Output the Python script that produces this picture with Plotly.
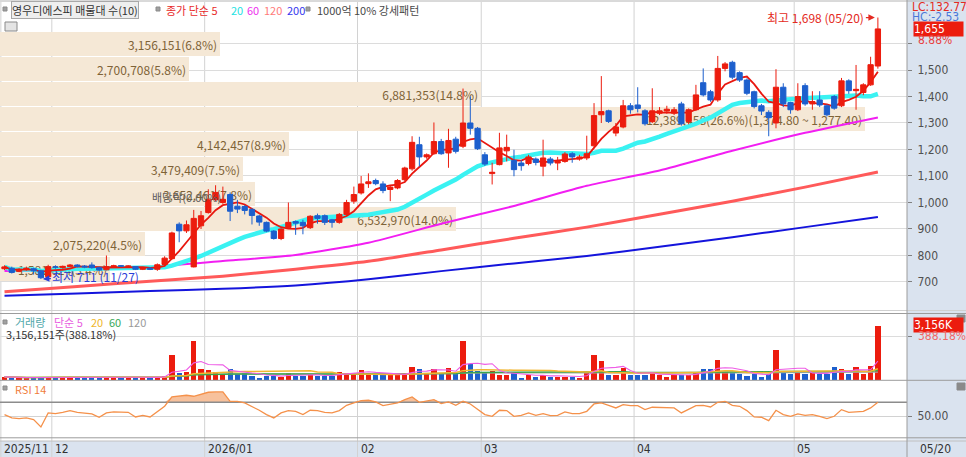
import numpy as np
import pandas as pd
import plotly.graph_objects as go

W, H = 966, 457
FONT = "Noto Sans CJK KR, sans-serif"
NUM = "Liberation Sans Narrow, DejaVu Sans Condensed, Noto Sans CJK KR, sans-serif"
RED = "#ec1c0e"
BLUE = "#1d5fcd"
STRIP = "#dae3ef"

# KRX sessions, 2025-11-20 .. 2026-05-20
holidays = ["2025-12-25", "2025-12-31", "2026-01-01", "2026-02-16", "2026-02-17",
            "2026-02-18", "2026-03-02", "2026-05-01", "2026-05-05"]
dates = pd.bdate_range("2025-11-20", "2026-05-20", freq="C", holidays=holidays)

opens = [750, 752, 740, 747, 750, 742, 720, 757, 754, 758,
         764, 760, 764, 754, 746, 757, 761, 759, 758, 748,
         752, 748, 766, 788, 918, 893, 757, 912, 962, 1011,
         1000, 1030, 986, 985, 974, 949, 925, 892, 864, 905,
         928, 925, 905, 950, 950, 935, 925, 955, 1005, 1036,
         1071, 1083, 1070, 1049, 1055, 1086, 1127, 1218, 1172, 1184,
         1230, 1187, 1239, 1212, 1300, 1280, 1180, 1109, 1143, 1195,
         1158, 1149, 1147, 1164, 1137, 1164, 1149, 1155, 1184, 1164,
         1168, 1214, 1331, 1346, 1262, 1285, 1365, 1368, 1346, 1305,
         1337, 1345, 1337, 1372, 1306, 1350, 1452, 1418, 1387, 1506,
         1529, 1490, 1462, 1418, 1365, 1340, 1300, 1435, 1377, 1350,
         1441, 1372, 1387, 1365, 1400, 1365, 1459, 1422, 1415, 1444,
         1515]
highs = [763, 758, 752, 758, 754, 746, 765, 763, 762, 768,
         767, 764, 774, 757, 800, 765, 764, 763, 760, 755,
         756, 770, 797, 890, 925, 932, 972, 968, 1050, 1065,
         1060, 1038, 1010, 990, 978, 953, 928, 896, 903, 1000,
         932, 935, 952, 958, 955, 938, 960, 1010, 1060, 1100,
         1110, 1090, 1080, 1062, 1088, 1135, 1250, 1248, 1185, 1302,
         1240, 1278, 1248, 1430, 1400, 1285, 1190, 1150, 1263, 1256,
         1199, 1160, 1180, 1170, 1237, 1172, 1172, 1190, 1190, 1180,
         1252, 1375, 1477, 1350, 1300, 1387, 1375, 1435, 1352, 1431,
         1360, 1365, 1360, 1380, 1355, 1444, 1506, 1425, 1553, 1530,
         1535, 1495, 1468, 1422, 1372, 1348, 1503, 1450, 1380, 1450,
         1450, 1420, 1420, 1370, 1405, 1470, 1465, 1519, 1450, 1550,
         1698]
lows = [745, 732, 737, 742, 728, 711, 718, 750, 750, 755,
        755, 752, 750, 742, 744, 754, 756, 755, 745, 745,
        745, 742, 764, 785, 850, 885, 755, 900, 958, 1005,
        995, 930, 960, 955, 917, 912, 888, 860, 858, 900,
        878, 880, 900, 920, 915, 905, 920, 950, 995, 1030,
        1055, 1065, 1035, 1005, 1050, 1080, 1120, 1136, 1165, 1180,
        1180, 1131, 1185, 1205, 1256, 1198, 1138, 1068, 1140, 1155,
        1099, 1120, 1140, 1140, 1099, 1140, 1122, 1150, 1150, 1158,
        1160, 1210, 1300, 1300, 1250, 1280, 1335, 1340, 1290, 1300,
        1330, 1335, 1330, 1290, 1295, 1345, 1400, 1380, 1380, 1495,
        1465, 1455, 1405, 1355, 1330, 1250, 1280, 1360, 1335, 1345,
        1365, 1350, 1360, 1325, 1350, 1360, 1410, 1350, 1405, 1440,
        1505]
closes = [757, 736, 748, 752, 742, 716, 758, 756, 759, 764,
          759, 757, 754, 745, 758, 761, 760, 760, 748, 752,
          748, 765, 790, 885, 893, 916, 940, 950, 1010, 1038,
          1012, 967, 975, 970, 951, 926, 892, 864, 900, 925,
          922, 912, 948, 940, 925, 925, 955, 1000, 1030, 1070,
          1078, 1071, 1045, 1058, 1083, 1130, 1227, 1172, 1180, 1230,
          1184, 1234, 1193, 1300, 1280, 1203, 1145, 1114, 1206, 1208,
          1124, 1139, 1172, 1151, 1168, 1149, 1155, 1183, 1172, 1172,
          1184, 1328, 1343, 1306, 1285, 1365, 1350, 1355, 1297, 1346,
          1346, 1352, 1350, 1297, 1350, 1406, 1406, 1387, 1506, 1523,
          1473, 1462, 1412, 1362, 1345, 1320, 1435, 1372, 1350, 1400,
          1372, 1381, 1368, 1331, 1356, 1459, 1422, 1427, 1444, 1520,
          1655]
volumes = [180000, 130000, 140000, 120000, 150000, 200000, 160000, 140000, 130000, 170000,
           150000, 140000, 160000, 150000, 170000, 220000, 140000, 130000, 150000, 140000,
           150000, 200000, 260000, 1490000, 450000, 490000, 2254000, 650000, 630000, 490000,
           350000, 650000, 350000, 410000, 255000, 160000, 255000, 255000, 200000, 450000,
           255000, 255000, 295000, 255000, 255000, 255000, 490000, 450000, 450000, 590000,
           410000, 295000, 295000, 295000, 295000, 450000, 785000, 690000, 350000, 650000,
           450000, 745000, 350000, 2254000, 940000, 550000, 410000, 550000, 295000, 295000,
           410000, 160000, 295000, 215000, 295000, 215000, 215000, 215000, 215000, 160000,
           410000, 1490000, 1117000, 315000, 315000, 705000, 315000, 315000, 315000, 450000,
           315000, 215000, 295000, 315000, 315000, 490000, 690000, 690000, 1176000, 490000,
           410000, 350000, 255000, 350000, 215000, 350000, 1784000, 450000, 350000, 450000,
           350000, 410000, 350000, 350000, 785000, 650000, 350000, 785000, 350000, 813069,
           3156151]
rsi14 = [52.4, 47.6, 46.7, 47.6, 45.2, 34.8, 54.8, 53.8, 55.7, 58.1,
         55.7, 54.8, 53.3, 48.6, 54.8, 56.2, 55.7, 55.7, 49.0, 51.4,
         49.0, 56.2, 64.3, 77.6, 78.6, 80.0, 78.6, 81.0, 84.3, 84.8,
         84.8, 71.4, 71.4, 69.0, 64.3, 58.6, 52.4, 47.6, 54.8, 58.1,
         57.1, 52.4, 58.6, 58.1, 55.7, 54.8, 58.1, 65.7, 69.0, 72.4,
         72.9, 70.5, 65.2, 66.7, 69.0, 73.8, 77.6, 70.0, 71.4, 73.8,
         68.1, 70.5, 65.7, 71.4, 67.6, 59.5, 52.4, 50.0, 58.6, 58.1,
         50.0, 51.4, 54.8, 51.4, 53.8, 51.0, 51.4, 56.2, 53.8, 53.8,
         57.1, 67.6, 69.0, 65.7, 61.9, 66.7, 65.2, 65.2, 59.5, 62.9,
         62.9, 62.9, 61.9, 54.8, 59.5, 65.2, 65.7, 63.3, 70.0, 71.4,
         65.7, 64.3, 58.1, 49.0, 48.6, 43.8, 58.6, 52.4, 50.0, 53.3,
         51.4, 52.4, 50.0, 46.7, 50.0, 59.5, 55.7, 56.2, 57.1, 61.9,
         70.0]

# long moving averages, read every 10th session
ma60_s = [741, 747, 757, 779, 802, 848, 920, 987, 1063, 1121, 1195, 1263, 1321]
ma120_s = [663, 683, 703, 722, 748, 778, 821, 865, 907, 956, 1005, 1058, 1115]
ma200_s = [648, 657, 666, 674, 687, 710, 741, 770, 798, 833, 869, 907, 945]

# volume profile (매물대), top bin first
profile_edges = [1647, 1552, 1458, 1363, 1268, 1173, 1079, 984, 889, 795, 700]
profile_vol = [3156151, 2700708, 6881353, 12389458, 4142457,
               3479409, 3652461, 6532970, 2075220, 1581624]
peak_range = (1374.80, 1277.40)

n = len(dates)
idx = np.arange(n)
XR = [-0.62, 124.0]
PR = 907 / W


def yp(px):
    return 1 - px / H


c = pd.Series(closes, dtype=float)
v = pd.Series(volumes, dtype=float)
up = [cl >= op for op, cl in zip(opens, closes)]
samp = idx[::10]

fig = go.Figure()

# profile bars
edges = np.array(profile_edges, dtype=float)
centers = (edges[:-1] + edges[1:]) / 2
heights = edges[:-1] - edges[1:]
pv = np.array(profile_vol, dtype=float)
share = pv / pv.sum() * 100
lengths = share / share.max() * 0.954 * (XR[1] - XR[0])
labels = []
for vol, s in zip(profile_vol, share):
    t = f"{vol:,}({s:.1f}%)"
    if s == share.max():
        t += f"({peak_range[0]:,.2f} ~ {peak_range[1]:,.2f})"
    labels.append(t)
fig.add_trace(go.Bar(
    y=centers, x=lengths, base=XR[0], orientation="h", width=heights * 0.955,
    marker=dict(color="#f5e8d6", line=dict(width=0)),
    text=labels, textposition="inside", insidetextanchor="end", constraintext="none",
    textfont=dict(family=FONT, size=12, color="#7f6337"),
    xaxis="x", yaxis="y", hoverinfo="skip"))

# moving averages
fig.add_trace(go.Scatter(x=samp, y=ma200_s, mode="lines", line=dict(color="#1414dc", width=2, shape="spline", smoothing=0.6),
                         xaxis="x", yaxis="y"))
fig.add_trace(go.Scatter(x=samp, y=ma120_s, mode="lines", line=dict(color="#ff5a5a", width=3, shape="spline", smoothing=0.6),
                         xaxis="x", yaxis="y"))
fig.add_trace(go.Scatter(x=samp, y=ma60_s, mode="lines", line=dict(color="#f21ef2", width=2, shape="spline", smoothing=0.6),
                         xaxis="x", yaxis="y"))
fig.add_trace(go.Scatter(x=idx, y=c.rolling(20, min_periods=1).mean(), mode="lines",
                         line=dict(color="#3af2f2", width=4.5), xaxis="x", yaxis="y"))
fig.add_trace(go.Scatter(x=idx, y=c.rolling(5, min_periods=1).mean(), mode="lines",
                         line=dict(color="#e8170f", width=1.8), xaxis="x", yaxis="y"))

# candles on an overlaid subplot so they sit above the averages
fig.add_trace(go.Candlestick(
    x=idx, open=opens, high=highs, low=lows, close=closes,
    increasing=dict(line=dict(color=RED, width=1), fillcolor=RED),
    decreasing=dict(line=dict(color=BLUE, width=1), fillcolor=BLUE),
    whiskerwidth=0, xaxis="x4", yaxis="y4", hoverinfo="skip"))

# volume
fig.add_trace(go.Bar(x=idx, y=volumes, width=0.72,
                     marker=dict(color=[RED if u else BLUE for u in up], line=dict(width=0)),
                     xaxis="x2", yaxis="y2", hoverinfo="skip"))
for win, col, wd in [(120, "#a8a8a8", 1.2), (60, "#3aa64e", 1.5), (20, "#f2b630", 1.5), (5, "#ee5ce6", 1.1)]:
    fig.add_trace(go.Scatter(x=idx, y=v.rolling(win, min_periods=1).mean(), mode="lines",
                             line=dict(color=col, width=wd), xaxis="x2", yaxis="y2"))

# RSI
r = np.array(rsi14)
fig.add_trace(go.Scatter(x=idx, y=np.full(n, 70.0), mode="lines", line=dict(width=0),
                         xaxis="x3", yaxis="y3", hoverinfo="skip"))
fig.add_trace(go.Scatter(x=idx, y=np.maximum(r, 70), mode="lines", line=dict(width=0),
                         fill="tonexty", fillcolor="#f7c19c", xaxis="x3", yaxis="y3", hoverinfo="skip"))
fig.add_trace(go.Scatter(x=[XR[0], XR[1]], y=[70, 70], mode="lines", line=dict(color="#8c8c8c", width=1.5),
                         xaxis="x3", yaxis="y3"))
fig.add_trace(go.Scatter(x=idx, y=r, mode="lines", line=dict(color="#f5914a", width=1.3),
                         xaxis="x3", yaxis="y3"))

tickfont = dict(family=NUM, size=12, color="#505050")
price_ticks = list(range(700, 1700, 100))
axis_common = dict(side="right", ticks="outside", ticklen=4, tickcolor="#808080",
                   tickfont=tickfont, zeroline=False, showline=False, ticklabelstandoff=3)
hidden_x = dict(domain=[0, PR], range=XR, visible=False, rangeslider=dict(visible=False))

fig.update_layout(
    width=W, height=H, margin=dict(l=0, r=0, t=0, b=0),
    paper_bgcolor="white", plot_bgcolor="rgba(0,0,0,0)",
    showlegend=False, hovermode=False, bargap=0, boxgap=0.15, boxgroupgap=0.15,
    font=dict(family=FONT),
    xaxis=dict(hidden_x, anchor="y"),
    xaxis2=dict(hidden_x, anchor="y2"),
    xaxis3=dict(hidden_x, anchor="y3"),
    xaxis4=dict(range=XR, visible=False, overlaying="x", anchor="y4", rangeslider=dict(visible=False)),
    yaxis=dict(axis_common, domain=[yp(311), yp(2)], range=[590.5, 1756.6], anchor="x",
               tickvals=price_ticks, ticktext=[f"{t:,}" if t < 1600 else "" for t in price_ticks],
               gridcolor="#dcdcdc"),
    yaxis4=dict(range=[590.5, 1756.6], visible=False, overlaying="y", anchor="x4"),
    yaxis2=dict(axis_common, domain=[yp(380), yp(313.5)], range=[0, 3840000], anchor="x2",
                tickvals=[2540000], showticklabels=False, gridcolor="#dcdcdc"),
    yaxis3=dict(axis_common, domain=[yp(437.5), yp(380.5)], range=[19.7, 101.1], anchor="x3",
                tickvals=[50], ticktext=["50.00"], gridcolor="#d2d2d2"),
)

shapes = [
    dict(type="rect", xref="paper", yref="paper", x0=PR, x1=1, y0=0, y1=1,
         fillcolor=STRIP, line=dict(width=0), layer="below"),
    dict(type="rect", xref="paper", yref="paper", x0=0, x1=PR, y0=0, y1=yp(441),
         fillcolor=STRIP, line=dict(width=0), layer="below"),
]
month_starts = [i for i in range(n) if i == 0 or dates[i].month != dates[i - 1].month]
for i in month_starts:
    shapes.append(dict(type="line", xref="x", yref="paper", x0=i - 0.5, x1=i - 0.5, y0=0, y1=yp(2),
                       line=dict(color="#d2d2d2", width=1), layer="below"))
for ypx, col in [(1, "#b4b4b4"), (310.5, "#d0d0d0"), (313.5, "#9c9c9c"), (380.3, "#9c9c9c"),
                 (437.8, "#9c9c9c"), (441, "#c0c0c0")]:
    shapes.append(dict(type="line", xref="paper", yref="paper", x0=0, x1=1, y0=yp(ypx), y1=yp(ypx),
                       line=dict(color=col, width=1)))
shapes.append(dict(type="line", xref="paper", yref="paper", x0=PR, x1=PR, y0=0, y1=1,
                   line=dict(color="#9c9c9c", width=1)))
# little squares / icons
for x0, y0, x1, y1, fc in [(3, 7, 7, 11, "#a0a0a0"), (156, 7, 160, 11, "#a0a0a0"), (306, 7, 310, 11, "#a0a0a0"),
                           (3, 320, 7, 324, "#a0a0a0"), (3, 386, 7, 390, "#a0a0a0"),
                           (5, 22, 17, 31, "#e4e4e4"), (957, 315, 965, 322, "#8a8a8a"),
                           (957, 383, 965, 390, "#8a8a8a")]:
    shapes.append(dict(type="rect", xref="paper", yref="paper", x0=x0 / W, x1=x1 / W, y0=yp(y1), y1=yp(y0),
                       fillcolor=fc, line=dict(color="#8a8a8a", width=1)))
fig.update_layout(shapes=shapes)


def txt(text, xpx, ypx, color, size=11, anchor="left", family=FONT, **kw):
    return dict(text=text, x=xpx / W, y=yp(ypx), xref="paper", yref="paper", xanchor=anchor,
                yanchor="middle", showarrow=False, font=dict(family=family, size=size, color=color), **kw)


ann = []
# top legend
ann.append(txt("영우디에스피 매물대 수(10)", 11, 9.5, "#333333", bgcolor="#eeeeee",
               bordercolor="#a8a8a8", borderwidth=1, borderpad=0))
for t, col, x in [("종가 단순 5", "#e82a2a", 164), ("20", "#22e2e2", 229), ("60", "#ee30ee", 245),
                  ("120", "#ff7a7a", 262), ("200", "#3636ee", 285), ("1000억 10% 강세패턴", "#484848", 315)]:
    ann.append(txt(t, x, 9.5, col))
# volume legend
for t, col, x in [("거래량", "#52a8aa", 13), ("단순 5", "#e85ee0", 52), ("20", "#f0b62c", 89),
                  ("60", "#3aa858", 107), ("120", "#9a9a9a", 126)]:
    ann.append(txt(t, x, 322, col))
ann.append(txt(f"{volumes[-1]:,}주({volumes[-1] / volumes[-2] * 100:.2f}%)", 4, 334, "#333333"))
ann.append(txt("RSI 14", 13, 388.5, "#f07c3c"))

# month labels
for i in month_starts:
    d = dates[i]
    lab = f"{d:%Y/%m}" if i == 0 or d.month == 1 else f"{d:%m}"
    ann.append(dict(text=lab, x=i - 0.5, y=yp(449), xref="x", yref="paper", xanchor="left", yanchor="middle",
                    xshift=1, showarrow=False, font=dict(family=NUM, size=12, color="#333333")))
ann.append(txt(f"{dates[-1]:%m/%d}", 918, 449, "#333333", size=12, family=NUM))

# right-side readouts
lo_i = int(np.argmin(lows))
hi_i = int(np.argmax(highs))
last, prev = closes[-1], closes[-2]
ann.append(txt(f"LC:{(last - lows[lo_i]) / lows[lo_i] * 100:.2f}", 910, 7, "#e42a22", size=12, family=NUM))
ann.append(txt(f"HC:{(last - highs[hi_i]) / highs[hi_i] * 100:.2f}", 910, 17, "#4a78d8", size=12, family=NUM))
ann.append(dict(text=f"{last:,}", x=913 / W, y=last, xref="paper", yref="y", xanchor="left", yanchor="middle",
                showarrow=False, bgcolor=RED, width=49, align="left", borderpad=0,
                font=dict(family=NUM, size=12, color="white")))
ann.append(dict(text=f"{(last / prev - 1) * 100:.2f}%", x=916 / W, y=last, xref="paper", yref="y", yshift=-11,
                xanchor="left", yanchor="middle", showarrow=False, font=dict(family=NUM, size=12, color="#e84040")))
ann.append(dict(text=f"{volumes[-1] / 1000:,.0f}K", x=913 / W, y=volumes[-1], xref="paper", yref="y2",
                xanchor="left", yanchor="middle", showarrow=False, bgcolor=RED, width=49, align="left", borderpad=0,
                font=dict(family=NUM, size=12, color="white")))
ann.append(dict(text=f"{volumes[-1] / volumes[-2] * 100:.2f}%", x=916 / W, y=volumes[-1], xref="paper", yref="y2",
                yshift=-11, xanchor="left", yanchor="middle", showarrow=False,
                font=dict(family=NUM, size=12, color="#f06868")))

# high / low markers
ann.append(dict(text=f"최고 {highs[hi_i]:,} ({dates[hi_i]:%m/%d})", x=hi_i, y=highs[hi_i], xref="x", yref="y",
                showarrow=True, ax=-62, ay=0, arrowhead=2, arrowsize=1, arrowwidth=1.3, arrowcolor="#e42a22",
                standoff=3, font=dict(family=FONT, size=12, color="#e42a22")))
ann.append(dict(text=f"최저 {lows[lo_i]:,} ({dates[lo_i]:%m/%d})", x=lo_i, y=lows[lo_i], xref="x", yref="y",
                showarrow=True, ax=55, ay=-3, arrowhead=2, arrowsize=1, arrowwidth=1.3, arrowcolor="#2a3ed8",
                standoff=2, font=dict(family=FONT, size=12, color="#2a3ed8")))
ann.append(dict(text="배당락(0.00%)", x=25.0, y=1021, xref="x", yref="y", showarrow=False,
                font=dict(family=FONT, size=11, color="#5c5c5c")))

fig.update_layout(annotations=ann)
# the page's default 8px body margin would shift the chart out of the window
fig.write_html("out.html", config={"displayModeBar": False},
               post_script="document.body.style.margin='0px';")
